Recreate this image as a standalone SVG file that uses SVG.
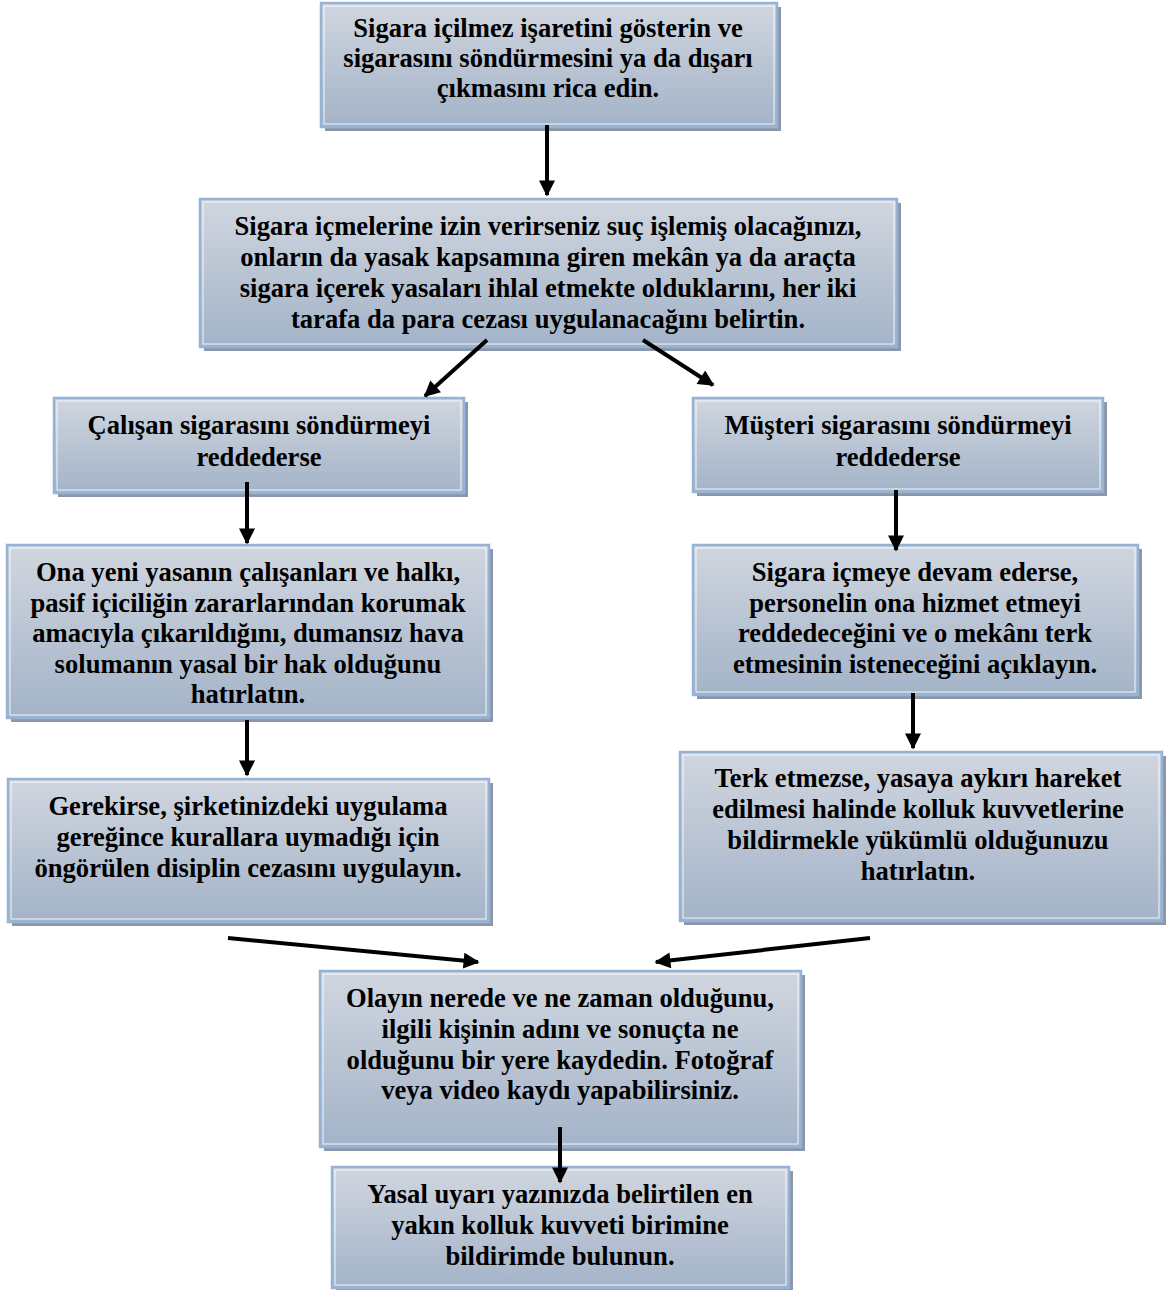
<svg xmlns="http://www.w3.org/2000/svg" width="1166" height="1290" viewBox="0 0 1166 1290">
<defs>
<linearGradient id="g" x1="0" y1="0" x2="0" y2="1">
<stop offset="0" stop-color="#d0d6df"/>
<stop offset="1" stop-color="#a3b3c8"/>
</linearGradient>
<marker id="ah" viewBox="0 0 10 10" refX="9" refY="5" markerWidth="4.4" markerHeight="4" orient="auto" markerUnits="strokeWidth">
<path d="M0,0 L10,5 L0,10 z" fill="#000"/>
</marker>
</defs>
<style>
.sh{fill:#8b97a8}
.bx{fill:url(#g);stroke:#95b3d7;stroke-width:2.5}
.in{fill:none;stroke:#ffffff;stroke-width:1;opacity:0.85}
.t{font-family:"Liberation Serif","Times New Roman",serif;font-weight:bold;font-size:26.6px;fill:#000;text-anchor:middle}
.c{stroke:#000;stroke-width:4;fill:none;marker-end:url(#ah)}
</style>
<rect width="1166" height="1290" fill="#fff"/>

<g id="n1">
<rect class="sh" x="325" y="7" width="456" height="124"/>
<rect class="bx" x="321" y="3" width="456" height="124"/>
<rect class="in" x="324" y="6" width="450" height="118"/>
<text class="t" x="548" y="37">Sigara içilmez işaretini gösterin ve</text>
<text class="t" x="548" y="67">sigarasını söndürmesini ya da dışarı</text>
<text class="t" x="548" y="97">çıkmasını rica edin.</text>
</g>

<g id="n2">
<rect class="sh" x="204" y="203" width="697" height="148"/>
<rect class="bx" x="200" y="199" width="697" height="148"/>
<rect class="in" x="203" y="202" width="691" height="142"/>
<text class="t" x="548" y="235">Sigara içmelerine izin verirseniz suç işlemiş olacağınızı,</text>
<text class="t" x="548" y="266">onların da yasak kapsamına giren mekân ya da araçta</text>
<text class="t" x="548" y="297">sigara içerek yasaları ihlal etmekte olduklarını, her iki</text>
<text class="t" x="548" y="328">tarafa da para cezası uygulanacağını belirtin.</text>
</g>

<g id="n3">
<rect class="sh" x="58" y="402" width="410" height="95"/>
<rect class="bx" x="54" y="398" width="410" height="95"/>
<rect class="in" x="57" y="401" width="404" height="89"/>
<text class="t" x="259" y="434">Çalışan sigarasını söndürmeyi</text>
<text class="t" x="259" y="466">reddederse</text>
</g>

<g id="n4">
<rect class="sh" x="697" y="402" width="410" height="94"/>
<rect class="bx" x="693" y="398" width="410" height="94"/>
<rect class="in" x="696" y="401" width="404" height="88"/>
<text class="t" x="898" y="434">Müşteri sigarasını söndürmeyi</text>
<text class="t" x="898" y="466">reddederse</text>
</g>

<g id="n5">
<rect class="sh" x="11" y="549" width="482" height="173"/>
<rect class="bx" x="7" y="545" width="482" height="173"/>
<rect class="in" x="10" y="548" width="476" height="167"/>
<text class="t" x="248" y="581">Ona yeni yasanın çalışanları ve halkı,</text>
<text class="t" x="248" y="612">pasif içiciliğin zararlarından korumak</text>
<text class="t" x="248" y="642">amacıyla çıkarıldığını, dumansız hava</text>
<text class="t" x="248" y="673">solumanın yasal bir hak olduğunu</text>
<text class="t" x="248" y="703">hatırlatın.</text>
</g>

<g id="n6">
<rect class="sh" x="697" y="549" width="445" height="150"/>
<rect class="bx" x="693" y="545" width="445" height="150"/>
<rect class="in" x="696" y="548" width="439" height="144"/>
<text class="t" x="915" y="581">Sigara içmeye devam ederse,</text>
<text class="t" x="915" y="612">personelin ona hizmet etmeyi</text>
<text class="t" x="915" y="642">reddedeceğini ve o mekânı terk</text>
<text class="t" x="915" y="673">etmesinin isteneceğini açıklayın.</text>
</g>

<g id="n7">
<rect class="sh" x="12" y="783" width="481" height="143"/>
<rect class="bx" x="8" y="779" width="481" height="143"/>
<rect class="in" x="11" y="782" width="475" height="137"/>
<text class="t" x="248" y="815">Gerekirse, şirketinizdeki uygulama</text>
<text class="t" x="248" y="846">gereğince kurallara uymadığı için</text>
<text class="t" x="248" y="877">öngörülen disiplin cezasını uygulayın.</text>
</g>

<g id="n8">
<rect class="sh" x="684" y="756" width="482" height="169"/>
<rect class="bx" x="680" y="752" width="482" height="169"/>
<rect class="in" x="683" y="755" width="476" height="163"/>
<text class="t" x="918" y="787">Terk etmezse, yasaya aykırı hareket</text>
<text class="t" x="918" y="818">edilmesi halinde kolluk kuvvetlerine</text>
<text class="t" x="918" y="849">bildirmekle yükümlü olduğunuzu</text>
<text class="t" x="918" y="880">hatırlatın.</text>
</g>

<g id="n9">
<rect class="sh" x="324" y="975" width="481" height="176"/>
<rect class="bx" x="320" y="971" width="481" height="176"/>
<rect class="in" x="323" y="974" width="475" height="170"/>
<text class="t" x="560" y="1007">Olayın nerede ve ne zaman olduğunu,</text>
<text class="t" x="560" y="1038">ilgili kişinin adını ve sonuçta ne</text>
<text class="t" x="560" y="1069">olduğunu bir yere kaydedin. Fotoğraf</text>
<text class="t" x="560" y="1099">veya video kaydı yapabilirsiniz.</text>
</g>

<g id="n10">
<rect class="sh" x="336" y="1171" width="457" height="121"/>
<rect class="bx" x="332" y="1167" width="457" height="121"/>
<rect class="in" x="335" y="1170" width="451" height="115"/>
<text class="t" x="560" y="1203">Yasal uyarı yazınızda belirtilen en</text>
<text class="t" x="560" y="1234">yakın kolluk kuvveti birimine</text>
<text class="t" x="560" y="1265">bildirimde bulunun.</text>
</g>

<g id="connectors">
<line class="c" x1="547" y1="125" x2="547" y2="195"/>
<line class="c" x1="487" y1="340" x2="425" y2="396"/>
<line class="c" x1="643" y1="340" x2="713" y2="385"/>
<line class="c" x1="247" y1="482" x2="247" y2="543"/>
<line class="c" x1="896" y1="490" x2="896" y2="550"/>
<line class="c" x1="247" y1="720" x2="247" y2="775"/>
<line class="c" x1="913" y1="693" x2="913" y2="748"/>
<line class="c" x1="228" y1="938" x2="478" y2="962"/>
<line class="c" x1="870" y1="938" x2="656" y2="962"/>
<line class="c" x1="560" y1="1127" x2="560" y2="1182"/>
</g>
</svg>
